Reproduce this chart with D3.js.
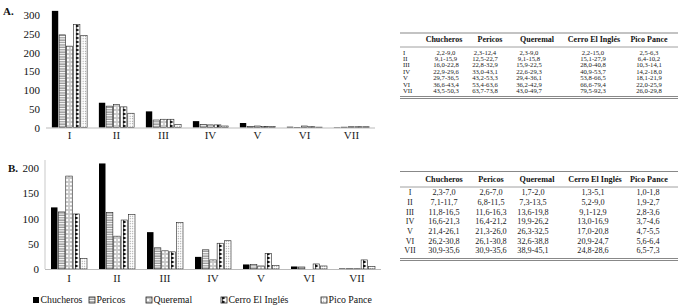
<!DOCTYPE html>
<html>
<head>
<meta charset="utf-8">
<script src="https://cdn.jsdelivr.net/npm/d3@7"></script>
<style>
  body { margin: 0; background: #fff; }
  svg { display: block; font-family: "Liberation Serif", "DejaVu Serif", serif; }
</style>
</head>
<body>
<div id="chart"></div>
<script>
// Categories
const periods = ["I", "II", "III", "IV", "V", "VI", "VII"];
const sites = ["Chucheros", "Pericos", "Queremal", "Cerro El Inglés", "Pico Pance"];

// Panel A counts
const aChucheros = [311, 66, 43, 17, 12, 2, 1];
const aPericos   = [247, 57, 20, 8, 3, 0.5, 1];
const aQueremal  = [217, 61, 22, 7, 4, 4, 2];
const aCerro     = [275, 55, 22, 7, 3, 2, 2];
const aPico      = [245, 38, 8, 4, 3, 1, 2];

// Panel B counts
const bChucheros = [122, 209, 73, 24, 9, 5, 1];
const bPericos   = [113, 112, 42, 38, 9, 4, 0.5];
const bQueremal  = [184, 65, 36, 18, 6, 0, 0.5];
const bCerro     = [109, 97, 34, 51, 31, 10, 18];
const bPico      = [21, 108, 92, 56, 7, 6, 5];

// Tick values
const ticksA = [0, 50, 100, 150, 200, 250, 300];
const ticksB = [0, 50, 100, 150, 200];

// Table ranges, panel A
const rA_Chucheros = ["2,2-9,0", "9,1-15,9", "16,0-22,8", "22,9-29,6", "29,7-36,5", "36,6-43,4", "43,5-50,3"];
const rA_Pericos   = ["2,3-12,4", "12,5-22,7", "22,8-32,9", "33,0-43,1", "43,2-53,3", "53,4-63,6", "63,7-73,8"];
const rA_Queremal  = ["2,3-9,0", "9,1-15,8", "15,9-22,5", "22,6-29,3", "29,4-36,1", "36,2-42,9", "43,0-49,7"];
const rA_Cerro     = ["2,2-15,0", "15,1-27,9", "28,0-40,8", "40,9-53,7", "53,8-66,5", "66,6-79,4", "79,5-92,3"];
const rA_Pico      = ["2,5-6,3", "6,4-10,2", "10,3-14,1", "14,2-18,0", "18,1-21,9", "22,0-25,9", "26,0-29,8"];

// Table ranges, panel B
const rB_Chucheros = ["2,3-7,0", "7,1-11,7", "11,8-16,5", "16,6-21,3", "21,4-26,1", "26,2-30,8", "30,9-35,6"];
const rB_Pericos   = ["2,6-7,0", "6,8-11,5", "11,6-16,3", "16,4-21,2", "21,3-26,0", "26,1-30,8", "30,9-35,6"];
const rB_Queremal  = ["1,7-2,0", "7,3-13,5", "13,6-19,8", "19,9-26,2", "26,3-32,5", "32,6-38,8", "38,9-45,1"];
const rB_Cerro     = ["1,3-5,1", "5,2-9,0", "9,1-12,9", "13,0-16,9", "17,0-20,8", "20,9-24,7", "24,8-28,6"];
const rB_Pico      = ["1,0-1,8", "1,9-2,7", "2,8-3,6", "3,7-4,6", "4,7-5,5", "5,6-6,4", "6,5-7,3"];

const W = 680, H = 307;
const svg = d3.select("#chart").append("svg")
  .attr("width", W).attr("height", H)
  .attr("viewBox", `0 0 ${W} ${H}`);

// Fill patterns for each site
const defs = svg.append("defs");

const pPer = defs.append("pattern").attr("id", "p1").attr("patternUnits", "userSpaceOnUse")
  .attr("width", 4).attr("height", 2.4);
pPer.append("rect").attr("width", 4).attr("height", 2.4).attr("fill", "#fff");
pPer.append("rect").attr("y", 1.2).attr("width", 4).attr("height", 1).attr("fill", "#777");

const pQue = defs.append("pattern").attr("id", "p2").attr("patternUnits", "userSpaceOnUse")
  .attr("width", 4).attr("height", 4);
pQue.append("rect").attr("width", 4).attr("height", 4).attr("fill", "#fff");
pQue.append("path").attr("d", "M2,0.5 L3.5,2 L2,3.5 L0.5,2 Z").attr("fill", "none").attr("stroke", "#777").attr("stroke-width", 0.8);

const pCer = defs.append("pattern").attr("id", "p3").attr("patternUnits", "userSpaceOnUse")
  .attr("width", 6).attr("height", 4);
pCer.append("rect").attr("width", 6).attr("height", 4).attr("fill", "#fff");
pCer.append("path").attr("d", "M0,0 L3.5,2 L0,4 Z").attr("fill", "#111");

const pPic = defs.append("pattern").attr("id", "p4").attr("patternUnits", "userSpaceOnUse")
  .attr("width", 2.5).attr("height", 2.5);
pPic.append("rect").attr("width", 2.5).attr("height", 2.5).attr("fill", "#fff");
pPic.append("circle").attr("cx", 1.25).attr("cy", 1.25).attr("r", 0.55).attr("fill", "#888");

const fills = ["#000", "url(#p1)", "url(#p2)", "url(#p3)", "url(#p4)"];

function drawPanel(cfg) {
  const g = svg.append("g");

  const x0 = d3.scaleBand().domain(periods).range(cfg.xRange)
    .paddingInner(0.25).paddingOuter(0.125);
  const x1 = d3.scaleBand().domain(sites).range([0, x0.bandwidth()]).paddingInner(0.12);
  const y = d3.scaleLinear().domain(cfg.yDomain).range(cfg.yRange);

  // y tick labels (no tick marks)
  const yAxis = g.append("g")
    .attr("transform", `translate(${cfg.xRange[0]},0)`)
    .call(d3.axisLeft(y).tickValues(cfg.ticks).tickSize(0).tickPadding(cfg.tickPad));
  yAxis.select(".domain").remove();
  if (cfg.showYLine) {
    g.append("line")
      .attr("x1", cfg.xRange[0]).attr("x2", cfg.xRange[0])
      .attr("y1", cfg.yLineTop).attr("y2", y(0))
      .attr("stroke", "#bbb").attr("stroke-width", 0.8);
  }
  yAxis.selectAll("text")
    .attr("font-family", "Liberation Serif, serif")
    .attr("font-size", 11).attr("fill", "#111");

  // bars
  const groups = g.selectAll(".grp").data(periods).enter().append("g")
    .attr("transform", d => `translate(${x0(d)},0)`);

  groups.selectAll("rect")
    .data((p, i) => sites.map((s, k) => ({ site: s, k: k, v: cfg.series[k][i] })))
    .enter().append("rect")
      .attr("x", d => x1(d.site))
      .attr("width", x1.bandwidth())
      .attr("y", d => y(d.v))
      .attr("height", d => y(0) - y(d.v))
      .attr("fill", d => fills[d.k])
      .attr("stroke", d => d.k === 0 ? "none" : "#222")
      .attr("stroke-width", 0.6);

  // baseline
  g.append("line")
    .attr("x1", cfg.xRange[0]).attr("x2", cfg.xRange[1])
    .attr("y1", y(0) + 0.5).attr("y2", y(0) + 0.5)
    .attr("stroke", "#aaa").attr("stroke-width", 0.8);

  // group labels
  const xAxis = g.append("g")
    .attr("transform", `translate(0,${y(0)})`)
    .call(d3.axisBottom(x0).tickSize(0).tickPadding(cfg.labelPad));
  xAxis.select(".domain").remove();
  xAxis.selectAll("text")
    .attr("font-family", "Liberation Serif, serif")
    .attr("font-size", 11).attr("fill", "#222");

  // panel letter
  svg.append("text")
    .attr("x", cfg.letterPos[0]).attr("y", cfg.letterPos[1])
    .attr("font-size", 11).attr("font-weight", "bold").attr("fill", "#111")
    .text(cfg.letter);
}

drawPanel({
  letter: "A.", letterPos: [3, 15],
  xRange: [46, 375], yDomain: [0, 300], yRange: [127.5, 15],
  ticks: ticksA, tickPad: 6, labelPad: 4, showYLine: false,
  series: [aChucheros, aPericos, aQueremal, aCerro, aPico]
});

drawPanel({
  letter: "B.", letterPos: [8, 172],
  xRange: [45, 381], yDomain: [0, 200], yRange: [269, 168],
  ticks: ticksB, tickPad: 6, labelPad: 5, showYLine: true, yLineTop: 160,
  series: [bChucheros, bPericos, bQueremal, bCerro, bPico]
});

// Legend
const legendX = [33, 89, 146, 221, 321];
const legend = svg.append("g").attr("transform", "translate(0,300)");
sites.forEach((s, k) => {
  legend.append("rect")
    .attr("x", legendX[k]).attr("y", -3)
    .attr("width", 6).attr("height", 6)
    .attr("fill", fills[k])
    .attr("stroke", k === 0 ? "none" : "#222").attr("stroke-width", 0.8);
  legend.append("text")
    .attr("x", legendX[k] + 7.5).attr("y", 0.5)
    .attr("dominant-baseline", "middle")
    .attr("font-size", 9.8).attr("fill", "#111")
    .text(s);
});

// Tables
function drawTable(cfg) {
  const g = svg.append("g").attr("font-size", cfg.fontSize).attr("fill", "#222");
  const rule = (yy, w) => g.append("line")
    .attr("x1", 400).attr("x2", 678).attr("y1", yy).attr("y2", yy)
    .attr("stroke", "#888").attr("stroke-width", w);

  rule(cfg.top, 1.2);
  rule(cfg.headLine, 0.8);
  rule(cfg.bottom, 1.2);
  rule(cfg.bottom + 2, 1.2);

  sites.forEach((s, k) => {
    g.append("text")
      .attr("x", cfg.headX[k]).attr("y", cfg.headY)
      .attr("text-anchor", "middle").attr("dominant-baseline", "middle")
      .attr("font-size", cfg.headFont)
      .attr("font-weight", "bold").attr("fill", "#111")
      .text(s);
  });

  const rowY = d3.scalePoint().domain(periods).range(cfg.rowRange);
  periods.forEach((p, i) => {
    g.append("text")
      .attr("x", cfg.romanX).attr("y", rowY(p))
      .attr("text-anchor", cfg.romanAnchor).attr("dominant-baseline", "middle")
      .text(p);
    cfg.cols.forEach((col, k) => {
      g.append("text")
        .attr("x", cfg.dataX[k]).attr("y", rowY(p))
        .attr("text-anchor", "middle").attr("dominant-baseline", "middle")
        .text(col[i]);
    });
  });
}

drawTable({
  fontSize: 6.7, headFont: 8, top: 33, headY: 40.5, headLine: 47, bottom: 96.5,
  rowRange: [53, 91.5], romanX: 403, romanAnchor: "start",
  headX: [444, 490, 537, 594, 649], dataX: [446, 485, 529, 593, 649],
  cols: [rA_Chucheros, rA_Pericos, rA_Queremal, rA_Cerro, rA_Pico]
});

drawTable({
  fontSize: 8.2, headFont: 8.2, top: 171.5, headY: 180, headLine: 187, bottom: 258.5,
  rowRange: [193.5, 251.5], romanX: 410, romanAnchor: "middle",
  headX: [444, 491, 537, 595, 649], dataX: [444, 491, 533, 593, 648],
  cols: [rB_Chucheros, rB_Pericos, rB_Queremal, rB_Cerro, rB_Pico]
});
</script>
</body>
</html>
